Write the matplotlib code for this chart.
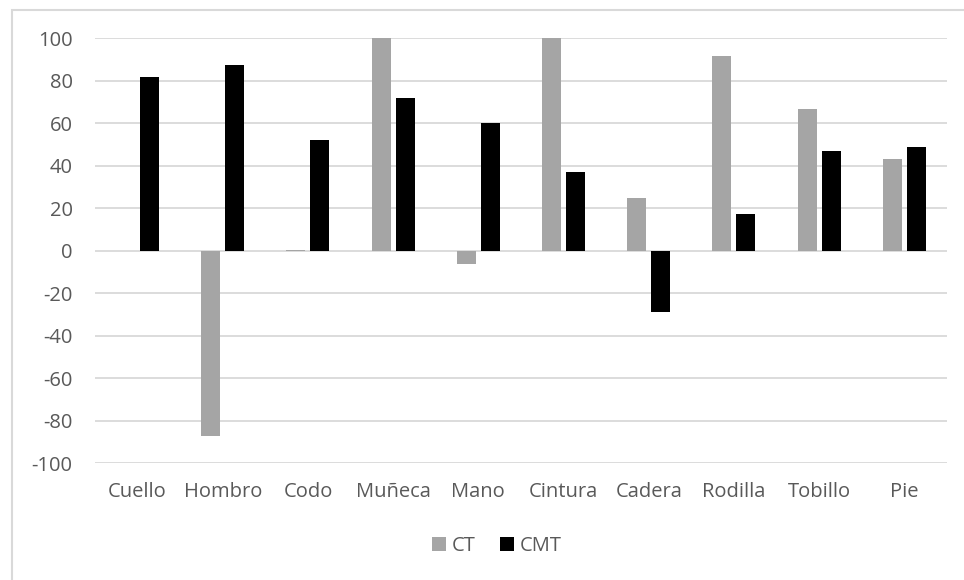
import matplotlib.pyplot as plt
import numpy as np
from matplotlib.patches import Rectangle

categorias = ['Cuello', 'Hombro', 'Codo', 'Muñeca', 'Mano',
              'Cintura', 'Cadera', 'Rodilla', 'Tobillo', 'Pie']
ct = [0, -87, 0.3, 100, -6, 100, 25, 91.8, 66.7, 43.4]
cmt = [82, 87.5, 52.2, 72, 60, 37, -28.5, 17.4, 46.9, 48.8]
yticks = [-100, -80, -60, -40, -20, 0, 20, 40, 60, 80, 100]

plt.rcParams['font.family'] = ['Open Sans', 'DejaVu Sans']
plt.rcParams['axes.unicode_minus'] = False
texto = '#595959'

fig = plt.figure(figsize=(9.64, 5.8), dpi=100)
ax = fig.add_axes([0.0985, 0.2009, 0.8838, 0.7328])

# borde del area del grafico (estilo Excel)
fig.patches.append(Rectangle((11.5 / 964, -0.1), 1.2, 1.1 - 10.5 / 580,
                             transform=fig.transFigure, fill=False,
                             edgecolor='#D9D9D9', linewidth=1.5))

x = np.arange(len(categorias))
w = 0.223
off = 0.141
ax.bar(x - off, ct, w, color='#A5A5A5', label='CT', zorder=3)
ax.bar(x + off, cmt, w, color='black', label='CMT', zorder=3)

ax.set_xlim(-0.5, len(categorias) - 0.5)
ax.set_ylim(-100, 100)
ax.set_yticks(yticks)
ax.set_xticks(x)
ax.set_xticklabels(categorias)
ax.grid(axis='y', color='#D9D9D9', linewidth=1.3, zorder=0)
for s in ax.spines.values():
    s.set_visible(False)
ax.tick_params(axis='y', length=0, pad=16, labelsize=14.5, labelcolor=texto)
ax.tick_params(axis='x', length=0, pad=13, labelsize=14.5, labelcolor=texto)

fig.legend(loc='center', bbox_to_anchor=(497 / 964, 1 - 546 / 580),
           ncol=2, frameon=False, fontsize=14.5, labelcolor=texto,
           handlelength=0.7, handleheight=0.7, handletextpad=0.3,
           columnspacing=1.2)

fig.savefig('out.png', dpi=100)
